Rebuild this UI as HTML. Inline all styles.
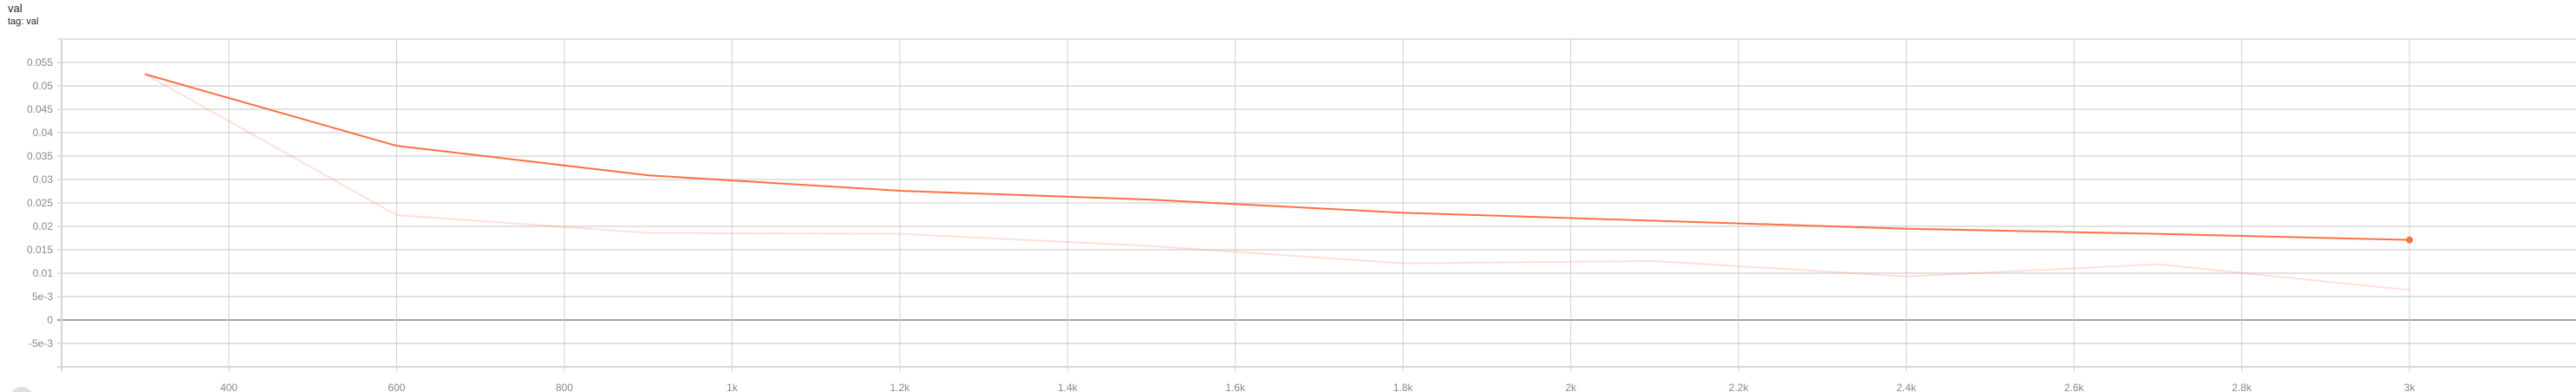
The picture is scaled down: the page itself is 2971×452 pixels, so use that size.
<!DOCTYPE html>
<html><head><meta charset="utf-8"><style>
html,body{margin:0;padding:0;background:#fff;width:2971px;height:452px;overflow:hidden;font-family:"Liberation Sans",sans-serif}
#t1{position:absolute;left:9px;top:2px;font-size:13px;color:#212121}
#t2{position:absolute;left:9px;top:19px;font-size:11px;color:#212121}
svg{position:absolute;left:0;top:0}
</style></head><body>
<div id="t1">val</div>
<div id="t2">tag: val</div>
<svg id="chart" width="2971" height="452"></svg>
<script>
const steps = [300,600,900,1200,1500,1800,2100,2400,2700,3000];
const rawValues = [0.0525,0.0224,0.0186,0.0184,0.0158,0.0121,0.0126,0.0093,0.0119,0.0064];
const smoothValues = [0.0525,0.0372,0.0309,0.0276,0.0257,0.0229,0.0212,0.0195,0.0184,0.0171];
const yTicks = [0.055,0.05,0.045,0.04,0.035,0.03,0.025,0.02,0.015,0.01,0.005,0,-0.005];
const yTickLabels = ["0.055","0.05","0.045","0.04","0.035","0.03","0.025","0.02","0.015","0.01","5e-3","0","-5e-3"];
const xTicks = [400,600,800,1000,1200,1400,1600,1800,2000,2200,2400,2600,2800,3000];
const xTickLabels = ["400","600","800","1k","1.2k","1.4k","1.6k","1.8k","2k","2.2k","2.4k","2.6k","2.8k","3k"];

const NS="http://www.w3.org/2000/svg";
const svg=document.getElementById('chart');
const L=71,R=2971,T=45,B=423;
const xMin=200.5,xMax=200.5+(R-L)/0.96731;
const yMin=-0.01,yMax=0.06;
function xs(v){return L+(v-xMin)/(xMax-xMin)*(R-L);}
function ys(v){return B-(v-yMin)/(yMax-yMin)*(B-T);}
function mk(tag,attrs){const e=document.createElementNS(NS,tag);for(const k in attrs)e.setAttribute(k,attrs[k]);svg.appendChild(e);return e;}

// top gridline
let g=mk('line',{x1:66,x2:R,y1:T,y2:T,stroke:'#e2e2e2','stroke-width':2});


yTicks.forEach((v,i)=>{
  const y=ys(v);
  const ln=mk('line',{x1:66,x2:R,y1:y,y2:y,stroke:v===0?'#a3a3a3':'#e2e2e2','stroke-width':2});
  
  
  const tx=mk('text',{x:61,y:y+4,'text-anchor':'end','font-size':12,fill:'#888','font-family':'Liberation Sans, sans-serif'});
  tx.textContent=yTickLabels[i];
  
  
});
xTicks.forEach((v,i)=>{
  const x=xs(v);
  const ln=mk('line',{x1:x,x2:x,y1:T,y2:428,stroke:'#d0d0d0','stroke-width':1});
  
  
  const tx=mk('text',{x:x,y:451,'text-anchor':'middle','font-size':12,fill:'#888','font-family':'Liberation Sans, sans-serif'});
  tx.textContent=xTickLabels[i];
  
  
});
const ya=mk('line',{x1:L,x2:L,y1:T,y2:428,stroke:'#d6d6d6','stroke-width':2});


const xa=mk('line',{x1:66,x2:R,y1:B,y2:B,stroke:'#d6d6d6','stroke-width':2});



const rp=mk('polyline',{points:steps.map((s,i)=>xs(s)+','+ys(rawValues[i])).join(' '),fill:'none',stroke:'rgba(255,112,67,0.22)','stroke-width':2});


const sp=mk('polyline',{points:steps.map((s,i)=>xs(s)+','+ys(smoothValues[i])).join(' '),fill:'none',stroke:'#ff7043','stroke-width':2});


const last=steps.length-1;
const dot=mk('circle',{cx:xs(steps[last]),cy:ys(smoothValues[last]),r:4,fill:'#ff7043'});


const btn=mk('circle',{cx:25,cy:460,r:14,fill:'#e0e0e0'});


</script>
</body></html>
